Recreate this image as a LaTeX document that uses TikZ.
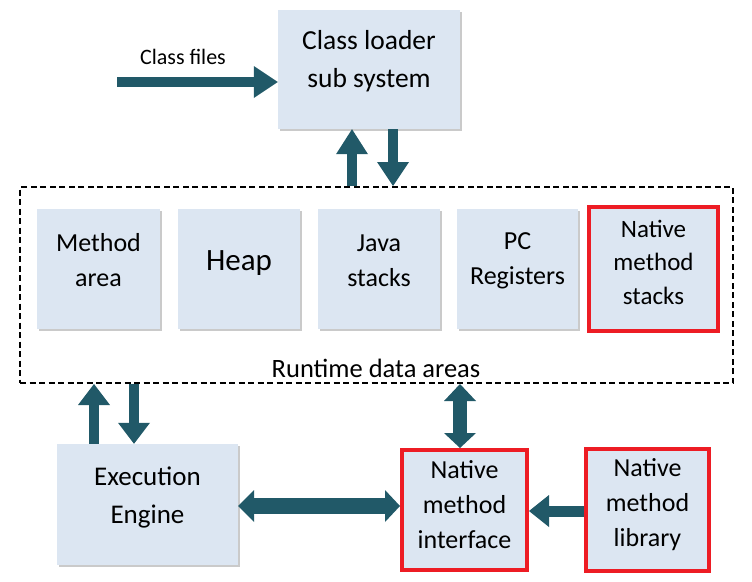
\documentclass[tikz,border=0pt]{standalone}
\usepackage{fontspec}
\setmainfont{Carlito}
\usetikzlibrary{arrows.meta,shadows,calc}
\definecolor{boxfill}{HTML}{DCE6F2}
\definecolor{arrowcol}{HTML}{215968}
\definecolor{redline}{HTML}{ED1C24}
\begin{document}
\begin{tikzpicture}[x=1pt,y=-1pt,
  bluebox/.style={fill=boxfill, draw=none, drop shadow={shadow xshift=1.5pt, shadow yshift=-1.5pt, fill=black!35, opacity=0.6}},
  redbox/.style={fill=boxfill, draw=redline, line width=4pt},
  txt/.style={align=center, inner sep=0pt, font=\fontsize{26}{35}\selectfont},
  blk/.style={draw=arrowcol, line width=#1}
]
\useasboundingbox (0,0) rectangle (752,581);

% runtime data area frame
\node[draw=black, line width=2pt, dash pattern=on 6pt off 3.5pt, minimum width=713pt, minimum height=196pt, inner sep=0pt] (rda) at (376.5,285) {};
\node[txt, font=\fontsize{26.5}{30}\selectfont] (rdal) at (376,368) {Runtime data areas};

% class loader
\node[bluebox, minimum width=182pt, minimum height=119pt,
  label={[txt, font=\fontsize{27.5}{38}\selectfont, yshift=8.5pt]center:{Class loader\\sub system}}] (cl) at (369,69.5) {};
\node[txt, font=\fontsize{22}{25}\selectfont] (cft) at (183,57) {Class files};

% runtime boxes
\node[bluebox, minimum width=123pt, minimum height=120pt,
  label={[txt, yshift=8.5pt]center:{Method\\area}}] (ma) at (98.5,269) {};
\node[bluebox, minimum width=122pt, minimum height=120pt,
  label={[txt, font=\fontsize{31}{36}\selectfont, yshift=6pt]center:{Heap}}] (heap) at (239,269) {};
\node[bluebox, minimum width=122pt, minimum height=120pt,
  label={[txt, yshift=8.5pt]center:{Java\\stacks}}] (js) at (379,269) {};
\node[bluebox, minimum width=121pt, minimum height=120pt,
  label={[txt, yshift=8.5pt]center:{PC\\Registers}}] (pc) at (517.5,269) {};
\node[redbox, minimum width=129pt, minimum height=124pt,
  label={[txt, font=\fontsize{25}{33.5}\selectfont, yshift=7pt]center:{Native\\method\\stacks}}] (nms) at (653.5,269) {};

% bottom row
\node[bluebox, minimum width=181pt, minimum height=121pt,
  label={[txt, font=\fontsize{27}{38}\selectfont, yshift=7.5pt]center:{Execution\\Engine}}] (ee) at (147.5,504.5) {};
\node[redbox, minimum width=125pt, minimum height=120pt,
  label={[txt, yshift=5pt]center:{Native\\method\\interface}}] (nmi) at (464.5,510) {};
\node[redbox, minimum width=123pt, minimum height=122pt,
  label={[txt, yshift=5pt]center:{Native\\method\\library}}] (lib) at (647.5,510) {};

% connector coordinates
\coordinate (cfs) at (117,82);
\coordinate (ax1) at (352,0);
\coordinate (ax2) at (393,0);
\coordinate (ax3) at (94,0);
\coordinate (ax4) at (134,0);
\coordinate (ax5) at (460,0);
\coordinate (ay1) at (0,506);
\coordinate (ay2) at (0,511);

% arrows
\draw[blk=10pt, -{Triangle[width=32pt,length=24pt,line width=0pt]}] (cfs) -- (cfs -| cl.west);
\draw[blk=10pt, -{Triangle[width=32pt,length=25pt,line width=0pt]}] (ax1 |- rda.north) -- (ax1 |- cl.south);
\draw[blk=10pt, -{Triangle[width=32pt,length=24pt,line width=0pt]}] (ax2 |- cl.south) -- (ax2 |- rda.north);
\draw[blk=10pt, -{Triangle[width=32pt,length=21pt,line width=0pt]}] (ax3 |- ee.north) -- (ax3 |- rda.south);
\draw[blk=10pt, -{Triangle[width=32pt,length=21pt,line width=0pt]}] (ax4 |- rda.south) -- (ax4 |- ee.north);
\draw[blk=14pt, {Triangle[width=32pt,length=17pt,line width=0pt]}-{Triangle[width=32pt,length=15pt,line width=0pt]}] (ax5 |- rda.south) -- (ax5 |- nmi.north);
\draw[blk=16pt, {Triangle[width=32pt,length=16pt,line width=0pt]}-{Triangle[width=32pt,length=15pt,line width=0pt]}] (ee.east |- ay1) -- (nmi.west |- ay1);
\draw[blk=11pt, -{Triangle[width=32pt,length=20pt,line width=0pt]}] (lib.west |- ay2) -- (nmi.east |- ay2);
\end{tikzpicture}
\end{document}
